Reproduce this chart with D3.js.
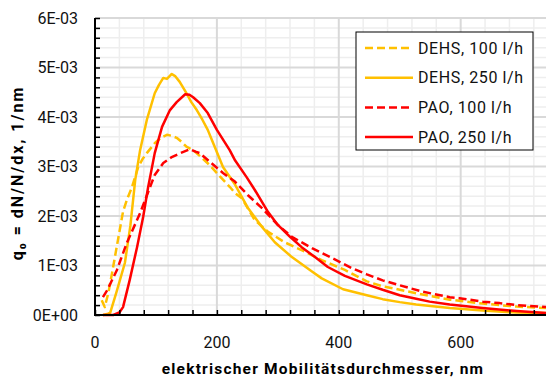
<!DOCTYPE html>
<html>
<head>
<meta charset="utf-8">
<script src="https://cdn.jsdelivr.net/npm/d3@7"></script>
<style>
    body { margin: 0; background: #fff; }
    svg { display: block; font-family: Roboto, "DejaVu Sans", sans-serif; }
</style>
</head>
<body>
<svg id="chart" width="546" height="378"></svg>
<script>
// q0 values are in units of 1E-03 1/nm
var dehs100Diam = [11, 16, 22, 28, 36, 46, 53, 60, 71, 78, 85, 98, 108, 118, 126, 134, 142, 150, 161, 175, 188, 205, 221, 230, 241, 262, 284, 311, 339, 372, 410, 446, 472, 500, 527, 582, 636, 692, 740];
var dehs100Q = [0.3, 0.16, 0.45, 0.85, 1.4, 2.09, 2.35, 2.56, 2.99, 3.15, 3.27, 3.47, 3.58, 3.64, 3.62, 3.58, 3.50, 3.40, 3.33, 3.18, 3.03, 2.80, 2.59, 2.46, 2.36, 1.92, 1.68, 1.47, 1.31, 1.11, 0.91, 0.68, 0.58, 0.51, 0.44, 0.31, 0.23, 0.17, 0.14];

var dehs250Diam = [13, 20, 25, 35, 49, 58, 66, 74, 85, 98, 105, 112, 118, 126, 132, 139, 150, 158, 167, 176, 185, 194, 210, 230, 251, 274, 295, 323, 356, 372, 407, 446, 472, 500, 527, 582, 636, 692, 740];
var dehs250Q = [0, 0.02, 0.05, 0.45, 1.05, 1.8, 2.73, 3.33, 3.94, 4.48, 4.65, 4.79, 4.77, 4.87, 4.82, 4.71, 4.48, 4.3, 4.14, 3.95, 3.74, 3.47, 2.99, 2.63, 2.16, 1.78, 1.47, 1.17, 0.88, 0.74, 0.52, 0.40, 0.32, 0.26, 0.21, 0.14, 0.09, 0.05, 0.04];

var pao100Diam = [13, 20, 36, 52, 74, 93, 98, 112, 126, 144, 156, 165, 172, 185, 210, 230, 251, 274, 300, 323, 356, 389, 421, 446, 472, 500, 538, 582, 598, 636, 664, 692, 740];
var pao100Q = [0.36, 0.5, 0.91, 1.45, 2.06, 2.67, 2.83, 3.07, 3.19, 3.29, 3.35, 3.30, 3.27, 3.13, 2.87, 2.69, 2.42, 2.16, 1.82, 1.58, 1.35, 1.15, 0.95, 0.82, 0.70, 0.60, 0.47, 0.36, 0.34, 0.27, 0.24, 0.20, 0.16];

var pao250Diam = [13, 30, 40, 46, 57, 69, 79, 87, 98, 110, 123, 134, 148, 155, 161, 172, 185, 200, 221, 230, 249, 262, 284, 300, 320, 339, 361, 382, 410, 446, 472, 500, 527, 549, 582, 636, 692, 740];
var pao250Q = [0, 0, 0.05, 0.16, 0.71, 1.37, 1.98, 2.57, 3.27, 3.80, 4.14, 4.30, 4.46, 4.45, 4.40, 4.28, 4.08, 3.74, 3.33, 3.12, 2.78, 2.53, 2.08, 1.82, 1.58, 1.37, 1.17, 0.97, 0.79, 0.62, 0.51, 0.40, 0.33, 0.27, 0.21, 0.14, 0.08, 0.04];

var seriesNames = ["DEHS, 100 l/h", "DEHS, 250 l/h", "PAO, 100 l/h", "PAO, 250 l/h"];
var xTicks = [0, 200, 400, 600];
var yTicks = [0, 1, 2, 3, 4, 5, 6];

var series = [
    { name: seriesNames[0], x: dehs100Diam, y: dehs100Q, color: "#FFC000", dash: "8,4" },
    { name: seriesNames[1], x: dehs250Diam, y: dehs250Q, color: "#FFC000", dash: null },
    { name: seriesNames[2], x: pao100Diam, y: pao100Q, color: "#FF0000", dash: "8,4" },
    { name: seriesNames[3], x: pao250Diam, y: pao250Q, color: "#FF0000", dash: null }
];

var svg = d3.select("#chart"),
    margin = { top: 18, right: 0, bottom: 63, left: 95 },
    width = +svg.attr("width") - margin.left - margin.right,
    height = +svg.attr("height") - margin.top - margin.bottom,
    g = svg.append("g").attr("transform", "translate(" + margin.left + "," + margin.top + ")");

var x = d3.scaleLinear().domain([0, 740]).range([0, width]);
var y = d3.scaleLinear().domain([0, 6]).range([height, 0]);

// minor grid
g.append("g")
    .selectAll("line")
    .data(d3.range(40, 740, 40).filter(d => d % 200 != 0))
    .join("line")
    .attr("x1", d => x(d)).attr("x2", d => x(d))
    .attr("y1", 0).attr("y2", height)
    .attr("stroke", "#eeeeee").attr("stroke-width", 1.5);

g.append("g")
    .selectAll("line")
    .data(d3.range(1, 30).map(d => d * 0.2).filter(d => Math.abs(d - Math.round(d)) > 0.01))
    .join("line")
    .attr("x1", 0).attr("x2", width)
    .attr("y1", d => y(d)).attr("y2", d => y(d))
    .attr("stroke", "#eeeeee").attr("stroke-width", 1.5);

// major grid
g.append("g")
    .selectAll("line")
    .data(xTicks.slice(1))
    .join("line")
    .attr("x1", d => x(d)).attr("x2", d => x(d))
    .attr("y1", 0).attr("y2", height)
    .attr("stroke", "#d9d9d9").attr("stroke-width", 2);

g.append("g")
    .selectAll("line")
    .data(yTicks.slice(1))
    .join("line")
    .attr("x1", 0).attr("x2", width)
    .attr("y1", d => y(d)).attr("y2", d => y(d))
    .attr("stroke", "#d9d9d9").attr("stroke-width", 2);

// lines
var line = d3.line()
    .x(d => x(d[0]))
    .y(d => y(d[1]));

g.append("g")
    .selectAll("path")
    .data(series)
    .join("path")
    .attr("fill", "none")
    .attr("stroke", d => d.color)
    .attr("stroke-width", 2.5)
    .attr("stroke-dasharray", d => d.dash)
    .attr("stroke-linejoin", "round")
    .attr("d", d => line(d.x.map((v, i) => [v, d.y[i]])));

// axes
var yAxis = g.append("g")
    .call(d3.axisRight(y)
        .tickValues(d3.range(0, 31).map(d => d * 0.2))
        .tickSize(5)
        .tickFormat(""));
yAxis.select(".domain").remove();
yAxis.selectAll(".tick line").attr("stroke", "#000").attr("stroke-width", 1.5);

var xAxis = g.append("g")
    .attr("transform", "translate(0," + height + ")")
    .call(d3.axisTop(x)
        .tickValues(d3.range(0, 741, 40))
        .tickSize(5)
        .tickFormat(""));
xAxis.select(".domain").remove();
xAxis.selectAll(".tick line").attr("stroke", "#000").attr("stroke-width", 1.5);

g.append("line")
    .attr("x1", 0).attr("x2", 0).attr("y1", 0).attr("y2", height + 1)
    .attr("stroke", "#000").attr("stroke-width", 2);
g.append("line")
    .attr("x1", -1).attr("x2", width).attr("y1", height).attr("y2", height)
    .attr("stroke", "#000").attr("stroke-width", 2);

// tick labels
g.append("g")
    .attr("font-size", 16)
    .attr("fill", "#111")
    .attr("text-anchor", "end")
    .selectAll("text")
    .data(yTicks)
    .join("text")
    .attr("x", -17)
    .attr("y", d => y(d))
    .attr("dy", "0.36em")
    .text(d => d == 0 ? "0E+00" : d + "E-03");

g.append("g")
    .attr("font-size", 16)
    .attr("fill", "#111")
    .attr("text-anchor", "middle")
    .selectAll("text")
    .data(xTicks)
    .join("text")
    .attr("x", d => x(d))
    .attr("y", height + 33)
    .text(d => d);

// axis titles
svg.append("text")
    .attr("x", 323)
    .attr("y", 374)
    .attr("text-anchor", "middle")
    .attr("font-size", 15.5)
    .attr("font-weight", "bold")
    .attr("letter-spacing", 1.2)
    .text("elektrischer Mobilitätsdurchmesser, nm");

svg.append("text")
    .attr("transform", "translate(23,173) rotate(-90)")
    .attr("text-anchor", "middle")
    .attr("font-size", 16)
    .attr("font-weight", "bold")
    .attr("letter-spacing", 2)
    .text("q₀ = dN/N/dx, 1/nm");

// legend
var legend = svg.append("g").attr("transform", "translate(356,32)");
legend.append("rect")
    .attr("width", 177)
    .attr("height", 118)
    .attr("fill", "#fff")
    .attr("stroke", "#000")
    .attr("stroke-width", 1);

var item = legend.selectAll("g")
    .data(series)
    .join("g")
    .attr("transform", (d, i) => "translate(0," + (16 + i * 29.7) + ")");

item.append("line")
    .attr("x1", 9).attr("x2", 57)
    .attr("stroke", d => d.color)
    .attr("stroke-width", 2.5)
    .attr("stroke-dasharray", d => d.dash);

item.append("text")
    .attr("x", 62)
    .attr("dy", "0.36em")
    .attr("font-size", 16)
    .attr("fill", "#111")
    .attr("letter-spacing", 0.6)
    .text(d => d.name);
</script>
</body>
</html>
